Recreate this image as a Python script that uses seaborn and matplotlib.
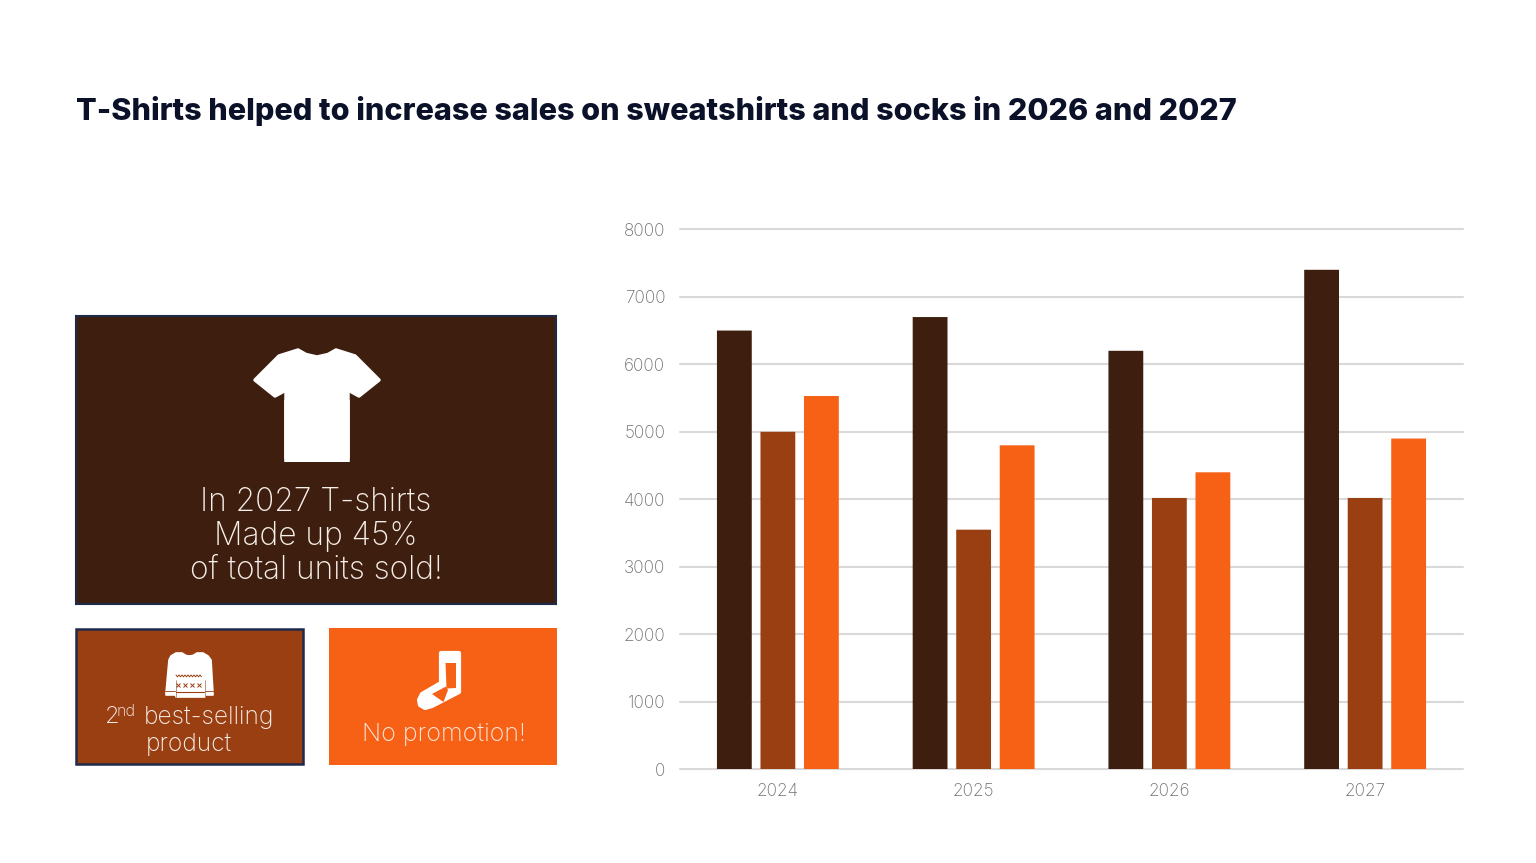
import matplotlib
matplotlib.use("Agg")
import matplotlib.pyplot as plt
from matplotlib.patches import Rectangle, Polygon
import pandas as pd
import seaborn as sns

years = ["2024", "2025", "2026", "2027"]
products = ["T-Shirts", "Sweatshirts", "Socks"]
tshirts = [6500, 6700, 6200, 7400]
sweatshirts = [5000, 3550, 4020, 4020]
socks = [5530, 4800, 4400, 4900]
y_ticks = [0, 1000, 2000, 3000, 4000, 5000, 6000, 7000, 8000]
palette = ["#3E1F0F", "#9A3F12", "#F66115"]
title = "T-Shirts helped to increase sales on sweatshirts and socks in 2026 and 2027"
main_lines = ["In 2027 T-shirts", "Made up 45%", "of total units sold!"]

W, H = 1536, 863
sns.set_theme(style="white")
plt.rcParams["font.family"] = ["Inter", "DejaVu Sans"]

fig = plt.figure(figsize=(W / 100, H / 100), dpi=100, facecolor="white")

# Sales chart
ax = fig.add_axes([680 / W, 1 - 769.3 / H, (1463 - 680) / W, 540 / H])
sales = pd.DataFrame({
    "year": years * 3,
    "product": [p for p in products for _ in years],
    "units": tshirts + sweatshirts + socks,
})
sns.barplot(data=sales, x="year", y="units", hue="product", hue_order=products,
            palette=palette, saturation=1, width=0.667, gap=0.2, legend=False,
            errorbar=None, zorder=3, linewidth=0, ax=ax)
for bar in ax.patches:
    bar.set_snap(False)
ax.set_xlim(-0.5, 3.5)
ax.set_ylim(0, 8000)
ax.set_yticks(y_ticks)
ax.set_xlabel("")
ax.set_ylabel("")
ax.grid(axis="y", color="#D9D9D9", lw=1.5, zorder=0)
ax.set_axisbelow(True)
sns.despine(ax=ax, left=True, top=True, right=True, bottom=True)
ax.tick_params(axis="both", length=0, labelsize=12.4, labelcolor="#6F6F6F", pad=10.5)
ax.tick_params(axis="x", pad=10)
for lab in ax.get_xticklabels() + ax.get_yticklabels():
    lab.set_fontweight("light")
for line in ax.get_ygridlines():
    line.set_clip_on(False)

# Canvas in pixel coordinates for the title, callout panels and icons
ov = fig.add_axes([0, 0, 1, 1], facecolor="none", zorder=5)
ov.set_xlim(0, W)
ov.set_ylim(H, 0)
ov.axis("off")

ov.text(76, 111.5, title, fontsize=22, fontweight="extra bold", color="#0A1128",
        va="center", ha="left")

NAVY = "#1F2A4A"
TEXT = "#F7EFE9"
ov.add_patch(Rectangle((75.5, 316), 480.5, 288, fc=palette[0], ec=NAVY, lw=1.5))
ov.add_patch(Rectangle((76, 628.5), 227, 135.5, fc=palette[1], ec=NAVY, lw=1.8))
ov.add_patch(Rectangle((329, 628), 228, 137, fc=palette[2], ec="none"))

# T-shirt icon: rounded silhouette with a square hem on top
shirt = [(298, 350), (306, 354.5), (317, 357), (328, 354.5), (336, 350), (355, 356),
         (379, 380), (359, 396), (348, 390), (348, 458), (286, 458), (286, 390),
         (275, 396), (255, 380), (279, 356)]
ov.add_patch(Polygon(shirt, closed=True, fc="white", ec="white", lw=2.5, joinstyle="round"))
hem = Rectangle((284.2, 400), 65.6, 62, fc="white", ec="none")
hem.set_snap(False)
ov.add_patch(hem)

for text, y in zip(main_lines, [502, 536, 570]):
    ov.text(316, y, text, color=TEXT, fontsize=22.8, fontweight="light",
            ha="center", va="center")

# Sweater icon
sweater = [(176, 653), (182, 653), (186, 655.5), (189, 656), (193, 655.5), (197, 653),
           (203, 653), (208, 656), (211, 660), (213, 693), (213, 695), (205, 695),
           (205, 697), (176, 697), (176, 695), (166, 695), (166, 693), (169, 660), (171, 656)]
ov.add_patch(Polygon(sweater, closed=True, fc="white", ec="white", lw=1.2, joinstyle="round"))
wave_x = [176 + 1.5 * i for i in range(18)]
wave_y = [675 + (i % 2) * 1.8 for i in range(18)]
ov.plot(wave_x, wave_y, color=palette[1], lw=0.7)
ov.plot([178, 185, 192, 199], [684.5] * 4, ls="none", marker="x", ms=3.5, mew=0.7, color=palette[1])
ov.plot([165, 175], [690.5, 690.5], color=palette[1], lw=0.6)
ov.plot([205, 215], [690.5, 690.5], color=palette[1], lw=0.6)
ov.plot([176, 204], [692, 692], color=palette[1], lw=0.8)
ov.plot([175.5, 175.5], [680, 697], color=palette[1], lw=0.4)
ov.plot([204.5, 204.5], [680, 697], color=palette[1], lw=0.4)

ov.text(105, 717, "2", color=TEXT, fontsize=17, fontweight="light", ha="left", va="center")
ov.text(116.5, 711, "nd", color=TEXT, fontsize=11.5, fontweight="light", ha="left", va="center")
ov.text(144, 717, "best-selling", color=TEXT, fontsize=17.6, fontweight="light", ha="left", va="center")
ov.text(189, 744, "product", color=TEXT, fontsize=17.6, fontweight="light", ha="center", va="center")

# Sock icon
sock = [(441, 653), (459, 653), (459, 692), (432, 706), (425, 708), (420, 705),
        (419, 700), (422, 694), (441, 683)]
ov.add_patch(Polygon(sock, closed=True, fc="white", ec="white", lw=3, joinstyle="round"))
ov.add_patch(Polygon([(445.5, 663), (456, 663), (456, 688), (446.5, 688.5)],
                     closed=True, fc=palette[2], ec="none"))
ov.add_patch(Polygon([(432, 694), (446, 686.5), (448, 690), (443.5, 702)],
                     closed=True, fc=palette[2], ec="none"))

ov.text(443.5, 734, "No promotion!", color="#F9E6DA", fontsize=18, fontweight="light",
        ha="center", va="center")

fig.savefig("out.png", dpi=100, facecolor="white")
